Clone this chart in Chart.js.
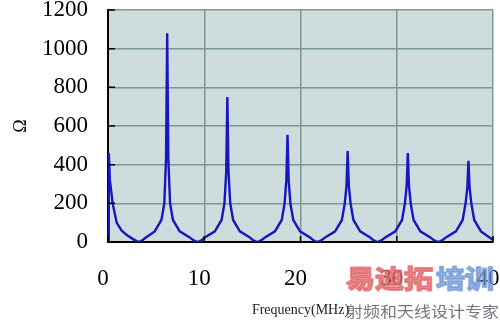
<!DOCTYPE html>
<html>
<head>
<meta charset="utf-8">
<script src="https://cdn.jsdelivr.net/npm/chart.js@4"></script>
<style>
  body { margin: 0; background: #fff; }
</style>
</head>
<body>
<canvas id="impedanceChart" width="500" height="321"></canvas>
<script>
// frequency points (MHz)
const freq = [
  0, 0.08, 0.2, 0.48, 0.9, 1.4, 1.95, 2.6, 2.9, 3.2,
  3.55, 3.9, 4.85, 5.55, 5.85, 6.03, 6.15, 6.27, 6.45, 6.75, 7.45, 8.45, 8.9, 9.3,
  9.7, 10.1, 11.1, 11.8, 12.1, 12.28, 12.4, 12.52, 12.7, 13.0, 13.7, 14.7, 15.1, 15.5,
  15.9, 16.35, 17.35, 18.05, 18.35, 18.53, 18.65, 18.77, 18.95, 19.25, 19.95, 20.95, 21.35, 21.75,
  22.15, 22.6, 23.6, 24.3, 24.6, 24.78, 24.9, 25.02, 25.2, 25.5, 26.2, 27.2, 27.6, 28.0,
  28.4, 28.85, 29.85, 30.55, 30.85, 31.03, 31.15, 31.27, 31.45, 31.75, 32.45, 33.45, 33.9, 34.3,
  34.7, 35.15, 36.15, 36.85, 37.15, 37.33, 37.45, 37.57, 37.75, 38.05, 38.75, 39.6, 40.0
];
// impedance magnitude (ohm)
const ohm = [
  0, 460, 320, 200, 100, 60, 36, 15, 7, 0,
  8, 22, 55, 114, 200, 430, 1080, 430, 200, 114, 55, 25, 8, 0,
  8, 25, 55, 114, 200, 360, 750, 360, 200, 114, 55, 25, 8, 0,
  8, 25, 55, 114, 200, 320, 555, 320, 200, 114, 55, 25, 8, 0,
  8, 25, 55, 114, 200, 290, 470, 290, 200, 114, 55, 25, 8, 0,
  8, 25, 55, 114, 200, 290, 460, 290, 200, 114, 55, 25, 8, 0,
  8, 25, 55, 114, 200, 280, 420, 280, 200, 114, 55, 25, 12
];

const xTicks = [0, 10, 20, 30, 40];
const yTicks = [0, 200, 400, 600, 800, 1000, 1200];

const plotBg = {
  id: 'plotBg',
  beforeDraw(chart) {
    const { ctx, chartArea: a } = chart;
    ctx.save();
    ctx.fillStyle = 'rgb(206,220,221)';
    ctx.fillRect(a.left, a.top, a.right - a.left, a.bottom - a.top);
    ctx.restore();
  }
};

// short tick marks pointing into the plot, plus the watermark
const extras = {
  id: 'extras',
  afterDraw(chart) {
    const { ctx, chartArea: a, scales } = chart;
    ctx.save();
    ctx.strokeStyle = '#000';
    ctx.lineWidth = 1.5;
    ctx.beginPath();
    yTicks.forEach(v => {
      const py = scales.y.getPixelForValue(v);
      ctx.moveTo(a.left, py);
      ctx.lineTo(a.left + 7, py);
    });
    xTicks.forEach(v => {
      const px = scales.x.getPixelForValue(v);
      ctx.moveTo(px, a.bottom);
      ctx.lineTo(px, a.bottom - 6);
    });
    ctx.stroke();

    ctx.textBaseline = 'top';
    ctx.lineJoin = 'round';
    ctx.save();
    ctx.translate(346, 266);
    ctx.scale(1, 0.88);
    ctx.font = 'bold 29px "Noto Sans CJK SC"';
    ctx.lineWidth = 2.2;
    ctx.fillStyle = ctx.strokeStyle = 'rgba(226,100,104,0.75)';
    ctx.strokeText('易迪拓', 0, 0);
    ctx.fillText('易迪拓', 0, 0);
    ctx.fillStyle = ctx.strokeStyle = 'rgba(110,150,215,0.7)';
    ctx.strokeText('培训', 90, 0);
    ctx.fillText('培训', 90, 0);
    ctx.restore();

    ctx.save();
    ctx.translate(346, 304);
    ctx.scale(1, 0.88);
    ctx.font = '17px "Noto Sans CJK SC"';
    ctx.fillStyle = 'rgba(95,90,105,0.85)';
    ctx.fillText('射频和天线设计专家', 0, 0);
    ctx.restore();
    ctx.restore();
  }
};

const noPad = s => {
  s.paddingTop = 0; s.paddingBottom = 0; s.paddingLeft = 0; s.paddingRight = 0;
};

const ctx = document.getElementById('impedanceChart');
const impedanceChart = new Chart(ctx, {
  type: 'line',
  data: {
    datasets: [{
      data: freq.map((f, i) => ({ x: f, y: ohm[i] })),
      borderColor: '#1616c2',
      borderWidth: 2.4,
      pointRadius: 0,
      tension: 0,
      fill: false
    }]
  },
  options: {
    responsive: false,
    animation: false,
    events: [],
    layout: { padding: { top: 10, right: 7, left: 0, bottom: 0 } },
    plugins: {
      legend: { display: false },
      tooltip: { enabled: false }
    },
    scales: {
      x: {
        type: 'linear',
        min: 0,
        max: 40,
        afterBuildTicks: s => { s.ticks = xTicks.map(v => ({ value: v })); },
        afterFit: s => { s.height = 79; noPad(s); },
        grid: { color: 'rgb(122,152,152)', lineWidth: 1.5, drawTicks: false },
        border: { color: '#000', width: 2 },
        ticks: {
          padding: 23,
          labelOffset: -5,
          color: '#000',
          font: { family: '"Liberation Serif"', size: 23 },
          callback: v => String(v)
        },
        title: {
          display: true,
          text: 'Frequency(MHz)',
          color: '#222',
          font: { family: '"Liberation Serif"', size: 14 },
          padding: { top: 0, bottom: 2 }
        }
      },
      y: {
        min: 0,
        max: 1200,
        afterBuildTicks: s => { s.ticks = yTicks.map(v => ({ value: v })); },
        afterFit: s => { s.width = 108; noPad(s); },
        grid: { color: 'rgb(122,152,152)', lineWidth: 1.5, drawTicks: false },
        border: { color: '#000', width: 2 },
        ticks: {
          padding: 20,
          color: '#000',
          font: { family: '"Liberation Serif"', size: 23 },
          callback: v => String(v)
        },
        title: {
          display: true,
          text: 'Ω',
          color: '#000',
          font: { family: '"Liberation Serif"', size: 18 },
          padding: { top: 10, bottom: 0 }
        }
      }
    }
  },
  plugins: [plotBg, extras]
});
</script>
</body>
</html>
